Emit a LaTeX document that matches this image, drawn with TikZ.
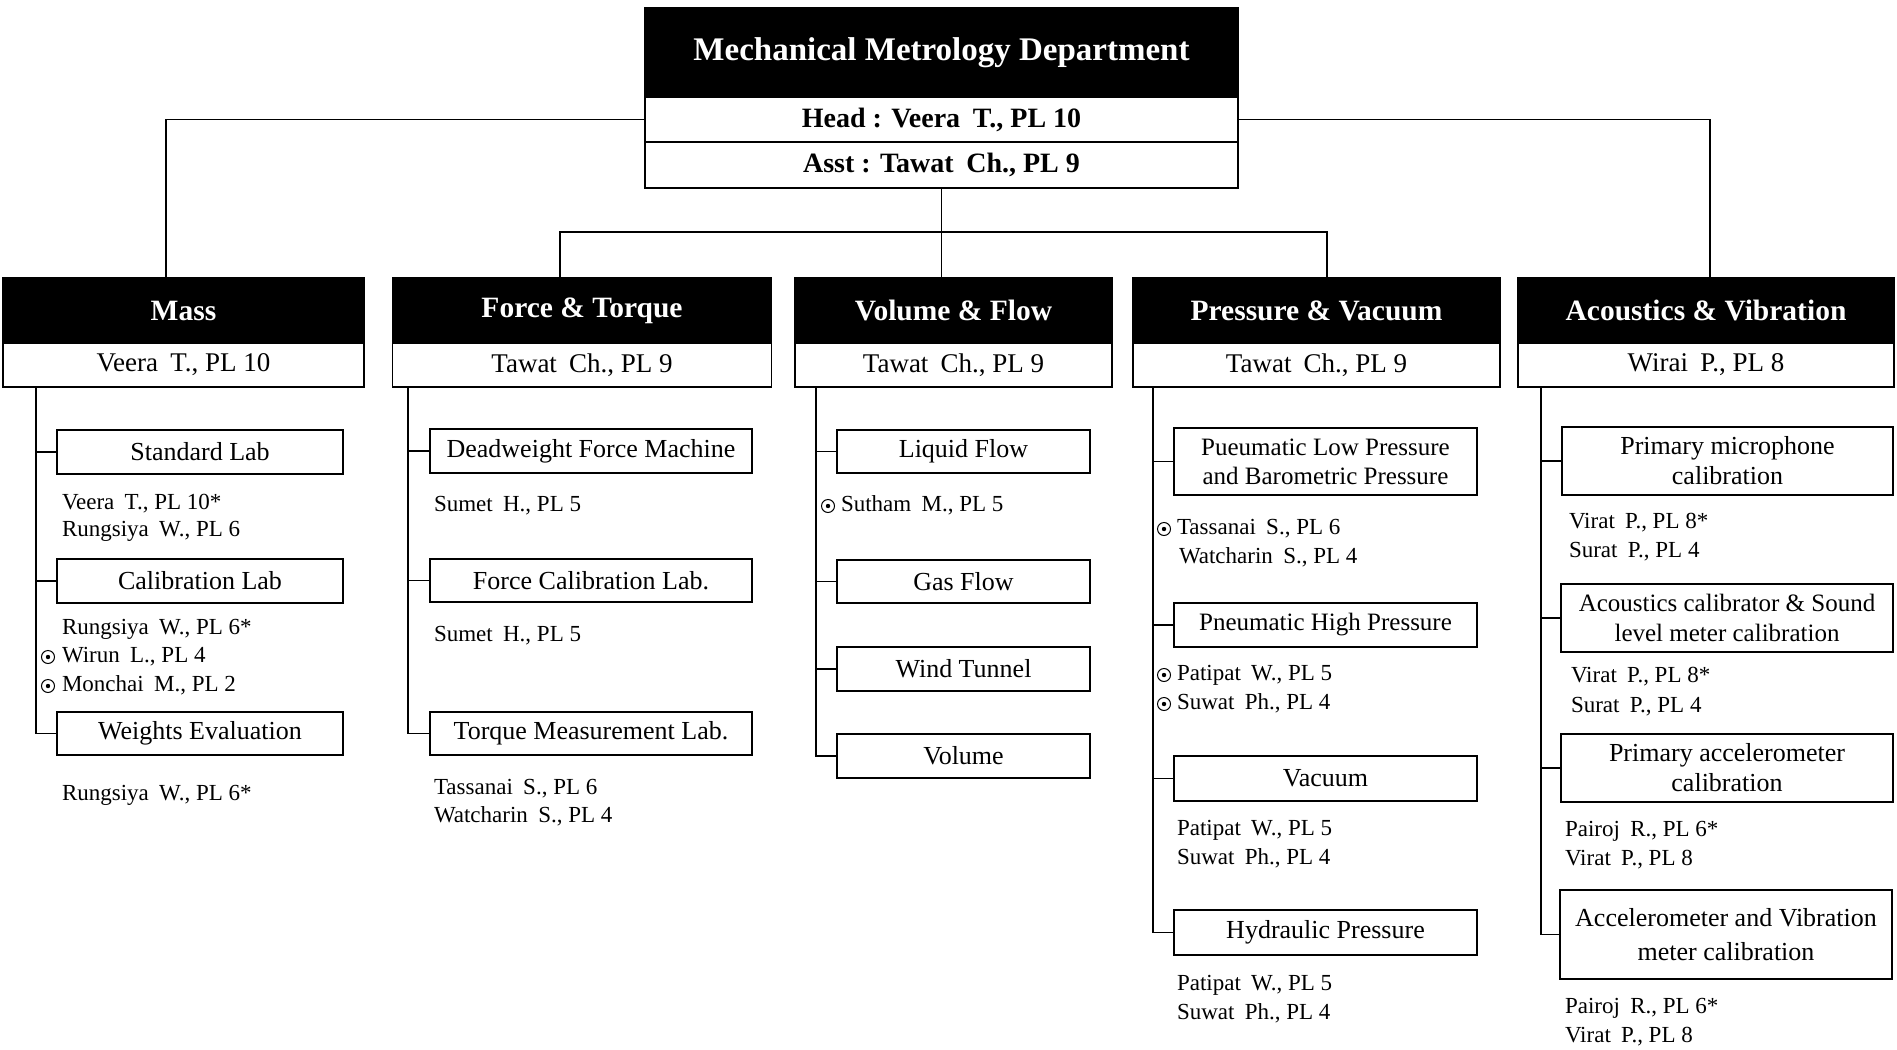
\documentclass[tikz,border=0pt]{standalone}
\usepackage{fontspec}
\setmainfont{Liberation Serif}
\newcommand\nmgap{\hspace{0.45em}}
\begin{document}
\begin{tikzpicture}[x=1pt,y=-1pt,
  every node/.style={inner sep=0pt, outer sep=0pt},
  ln/.style={line width=1.6pt},
  blk/.style={draw, line width=1.6pt, fill=black, text=white, font=\bfseries\fontsize{29.5}{33}\selectfont},
  row/.style={draw, line width=1.6pt, fill=white, font=\fontsize{27}{31}\selectfont},
  sub/.style={draw, line width=1.6pt, fill=white, align=center, font=\fontsize{26}{30}\selectfont},
  nm/.style={anchor=west, font=\fontsize{23}{27}\selectfont, text height=15pt, text depth=5pt},
  ico/.style={circle, draw, line width=1pt, minimum size=13pt},
]
\useasboundingbox (0,0) rectangle (1897,1049);

% ---------- connectors top level ----------
\coordinate (massIn) at (166,278);
\coordinate (avIn) at (1710,278);
\coordinate (bus) at (941.5,232);
\coordinate (ftIn) at (560,278);
\coordinate (vfIn) at (941.5,278);
\coordinate (pvIn) at (1327,278);

% ---------- top box ----------
\node[blk, minimum width=593pt, minimum height=89pt, font=\bfseries\fontsize{33}{37}\selectfont] (topH) at (941.5,52.5) {Mechanical Metrology Department};
\node[row, minimum width=593pt, minimum height=45pt, font=\bfseries\fontsize{28}{32}\selectfont] (topHead) at (941.5,119.5) {Head : Veera\nmgap T., PL 10};
\node[row, minimum width=593pt, minimum height=46pt, font=\bfseries\fontsize{28}{32}\selectfont] (topAsst) at (941.5,165) {Asst : Tawat\nmgap Ch., PL 9};

\draw[ln] (topHead.west) -| (massIn);
\draw[ln] (topHead.east) -| (avIn);
\draw[ln] (topAsst.south) -- (bus);
\draw[ln] (ftIn) |- (bus) -| (pvIn);
\draw[ln] (bus) -- (vfIn);

% ---------- column boxes ----------
\node[blk, minimum width=361pt, minimum height=65pt] (massH) at (183.5,310.5) {Mass};
\node[row, minimum width=361pt, minimum height=44pt] (massN) at (183.5,365) {Veera\nmgap T., PL 10};

\node[blk, minimum width=379pt, minimum height=65pt] (ftH) at (582,310.5) {Force \& Torque};
\node[row, minimum width=379pt, minimum height=44pt] (ftN) at (582,365) {Tawat\nmgap Ch., PL 9};

\node[blk, minimum width=317pt, minimum height=65pt] (vfH) at (953.5,310.5) {Volume \& Flow};
\node[row, minimum width=317pt, minimum height=44pt] (vfN) at (953.5,365) {Tawat\nmgap Ch., PL 9};

\node[blk, minimum width=367pt, minimum height=65pt] (pvH) at (1316.5,310.5) {Pressure \& Vacuum};
\node[row, minimum width=367pt, minimum height=44pt] (pvN) at (1316.5,365) {Tawat\nmgap Ch., PL 9};

\node[blk, minimum width=376pt, minimum height=65pt] (avH) at (1706,310.5) {Acoustics \& Vibration};
\node[row, minimum width=376pt, minimum height=44pt] (avN) at (1706,365) {Wirai\nmgap P., PL 8};

% ---------- Mass ----------
\coordinate (mT) at (36,387);
\node[sub, minimum width=286pt, minimum height=44pt] (std) at (200,452) {Standard Lab};
\node[sub, minimum width=286pt, minimum height=44pt] (cal) at (200,581) {Calibration Lab};
\node[sub, minimum width=286pt, minimum height=43pt] (wts) at (200,733.5) {Weights Evaluation};
\foreach \b in {std,cal,wts} \draw[ln] (mT) |- (\b.west);
\node[nm] (m1) at (62,504) {Veera\nmgap T., PL 10*};
\node[nm] (m2) at (62,531) {Rungsiya\nmgap W., PL 6};
\node[nm] (m3) at (62,629) {Rungsiya\nmgap W., PL 6*};
\node[nm] (m4) at (62,657) {Wirun\nmgap L., PL 4};
\node[nm] (m5) at (62,686) {Monchai\nmgap M., PL 2};
\node[nm] (m6) at (62,795) {Rungsiya\nmgap W., PL 6*};
\node[ico] (mi1) at (48,657) {}; \fill (mi1.center) circle (2.2);
\node[ico] (mi2) at (48,686) {}; \fill (mi2.center) circle (2.2);

% ---------- Force & Torque ----------
\coordinate (fT) at (408,387);
\node[sub, minimum width=322pt, minimum height=44pt] (dw) at (591,451) {Deadweight Force Machine};
\node[sub, minimum width=322pt, minimum height=43pt] (fcl) at (591,580.5) {Force Calibration Lab.};
\node[sub, minimum width=322pt, minimum height=43pt] (tml) at (591,733.5) {Torque Measurement Lab.};
\foreach \b in {dw,fcl,tml} \draw[ln] (fT) |- (\b.west);
\node[nm] (f1) at (434,506) {Sumet\nmgap H., PL 5};
\node[nm] (f2) at (434,636) {Sumet\nmgap H., PL 5};
\node[nm] (f3) at (434,789) {Tassanai\nmgap S., PL 6};
\node[nm] (f4) at (434,817) {Watcharin\nmgap S., PL 4};

% ---------- Volume & Flow ----------
\coordinate (vT) at (816,387);
\node[sub, minimum width=253pt, minimum height=43pt] (lf) at (963.5,451.5) {Liquid Flow};
\node[sub, minimum width=253pt, minimum height=43pt] (gf) at (963.5,581.5) {Gas Flow};
\node[sub, minimum width=253pt, minimum height=44pt] (wt) at (963.5,669) {Wind Tunnel};
\node[sub, minimum width=253pt, minimum height=44pt] (vol) at (963.5,756) {Volume};
\foreach \b in {lf,gf,wt,vol} \draw[ln] (vT) |- (\b.west);
\node[nm] (v1) at (841,506) {Sutham\nmgap M., PL 5};
\node[ico] (vi1) at (828,506) {}; \fill (vi1.center) circle (2.2);

% ---------- Pressure & Vacuum ----------
\coordinate (pT) at (1153,387);
\node[sub, minimum width=303pt, minimum height=67pt, font=\fontsize{25}{29}\selectfont] (plp) at (1325.5,461.5) {Pueumatic Low Pressure\\and Barometric Pressure};
\node[sub, minimum width=303pt, minimum height=44pt, font=\fontsize{25}{29}\selectfont] (php) at (1325.5,625) {Pneumatic High Pressure};
\node[sub, minimum width=303pt, minimum height=45pt] (vac) at (1325.5,778.5) {Vacuum};
\node[sub, minimum width=303pt, minimum height=45pt] (hyd) at (1325.5,932.5) {Hydraulic Pressure};
\foreach \b in {plp,php,vac,hyd} \draw[ln] (pT) |- (\b.west);
\node[nm] (p1) at (1177,529) {Tassanai\nmgap S., PL 6};
\node[nm] (p2) at (1179,558) {Watcharin\nmgap S., PL 4};
\node[nm] (p3) at (1177,675) {Patipat\nmgap W., PL 5};
\node[nm] (p4) at (1177,704) {Suwat\nmgap Ph., PL 4};
\node[nm] (p5) at (1177,830) {Patipat\nmgap W., PL 5};
\node[nm] (p6) at (1177,859) {Suwat\nmgap Ph., PL 4};
\node[nm] (p7) at (1177,985) {Patipat\nmgap W., PL 5};
\node[nm] (p8) at (1177,1014) {Suwat\nmgap Ph., PL 4};
\node[ico] (pi1) at (1164,529) {}; \fill (pi1.center) circle (2.2);
\node[ico] (pi2) at (1164,675) {}; \fill (pi2.center) circle (2.2);
\node[ico] (pi3) at (1164,704) {}; \fill (pi3.center) circle (2.2);

% ---------- Acoustics & Vibration ----------
\coordinate (aT) at (1541,387);
\node[sub, minimum width=331pt, minimum height=68pt] (pmc) at (1727.5,461) {Primary microphone\\calibration};
\node[sub, minimum width=332pt, minimum height=68pt, font=\fontsize{25}{30}\selectfont] (acs) at (1727,618) {Acoustics calibrator \& Sound\\level meter calibration};
\node[sub, minimum width=332pt, minimum height=68pt] (pac) at (1727,768) {Primary accelerometer\\calibration};
\node[sub, minimum width=332pt, minimum height=89pt, font=\fontsize{26}{34}\selectfont] (avm) at (1726,934.5) {Accelerometer and Vibration\\meter calibration};
\foreach \b in {pmc,acs,pac,avm} \draw[ln] (aT) |- (\b.west);
\node[nm] (a1) at (1569,523) {Virat\nmgap P., PL 8*};
\node[nm] (a2) at (1569,552) {Surat\nmgap P., PL 4};
\node[nm] (a3) at (1571,677) {Virat\nmgap P., PL 8*};
\node[nm] (a4) at (1571,707) {Surat\nmgap P., PL 4};
\node[nm] (a5) at (1565,831) {Pairoj\nmgap R., PL 6*};
\node[nm] (a6) at (1565,860) {Virat\nmgap P., PL 8};
\node[nm] (a7) at (1565,1008) {Pairoj\nmgap R., PL 6*};
\node[nm] (a8) at (1565,1037) {Virat\nmgap P., PL 8};
\end{tikzpicture}
\end{document}
